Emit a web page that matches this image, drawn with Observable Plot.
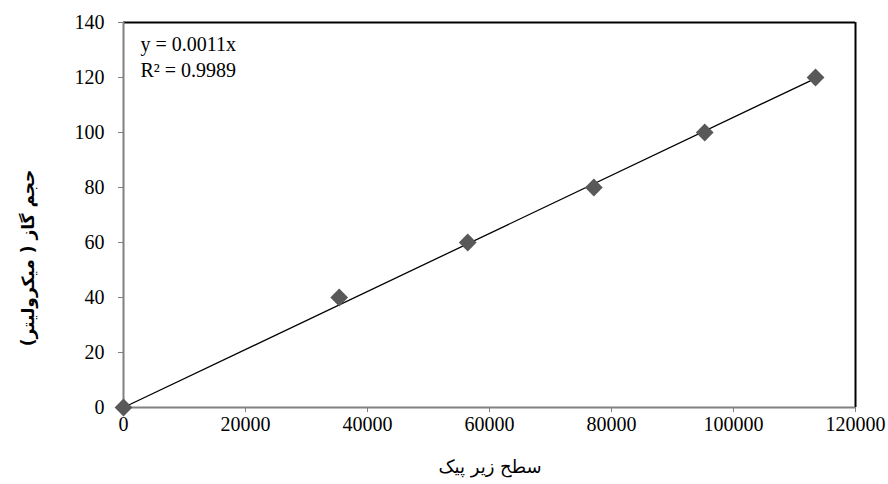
<!DOCTYPE html>
<html>
<head>
<meta charset="utf-8">
<script src="https://cdn.jsdelivr.net/npm/d3@7"></script>
<script src="https://cdn.jsdelivr.net/npm/@observablehq/plot@0.6"></script>
<style>
  html, body { margin: 0; padding: 0; background: #fff; }
  #chart { width: 888px; height: 484px; }
  #chart svg g text { font-family: "Liberation Serif", "Times New Roman", serif; font-size: 20px; }
</style>
</head>
<body>
<div id="chart"></div>
<script>
// Data
const peakArea = [0, 35360, 56430, 77110, 95280, 113450];   // سطح زیر پیک
const gasVolume = [0, 40, 60, 80, 100, 120];                 // حجم گاز (میکرولیتر)
const xTicks = [0, 20000, 40000, 60000, 80000, 100000, 120000];
const yTicks = [0, 20, 40, 60, 80, 100, 120, 140];
const equationText = ["y = 0.0011x", "R² = 0.9989"];
const xLabel = "سطح زیر پیک";
const yLabel = "حجم گاز ( میکرولیتر)";

const points = peakArea.map((x, i) => ({x, y: gasVolume[i]}));

// Linear trendline through the origin (least squares)
const sxy = d3.sum(points, d => d.x * d.y);
const sxx = d3.sum(points, d => d.x * d.x);
const slope = sxy / sxx;
const xMax = d3.max(peakArea);
const trend = [{x: 0, y: 0}, {x: xMax, y: slope * xMax}];

const axisGray = "#808080";

const chart = Plot.plot({
  width: 888,
  height: 484,
  marginLeft: 123,
  marginRight: 33,
  marginTop: 22,
  marginBottom: 77,
  style: {fontFamily: "'Liberation Serif', 'Times New Roman', serif", fontSize: "20px", color: "#000", background: "#fff"},
  x: {domain: [0, 120000], ticks: xTicks, tickFormat: d => String(d), label: null},
  y: {domain: [0, 140], ticks: yTicks, tickFormat: d => String(d), label: null},
  marks: [
    Plot.axisX({ticks: xTicks, tickFormat: d => String(d), tickSize: 5, tickPadding: 4, stroke: axisGray, fill: "#000", label: null}),
    Plot.axisY({ticks: yTicks, tickFormat: d => String(d), tickSize: 5, tickPadding: 14, stroke: axisGray, fill: "#000", label: null}),
    Plot.ruleY([140], {stroke: "#000", strokeWidth: 2}),
    Plot.ruleX([120000], {stroke: "#000", strokeWidth: 2}),
    Plot.ruleX([0], {stroke: axisGray, strokeWidth: 2}),
    Plot.ruleY([0], {stroke: axisGray, strokeWidth: 2}),
    Plot.line(trend, {x: "x", y: "y", stroke: "#000", strokeWidth: 1.3}),
    Plot.dot(points, {x: "x", y: "y", symbol: "diamond2", r: 8, fill: "#595959", stroke: "none"}),
    Plot.text([equationText.join("\n")], {frameAnchor: "top-left", textAnchor: "start", lineAnchor: "top", dx: 17, dy: 10, lineHeight: 1.3, fill: "#000"})
  ]
});

const svg = d3.select(chart);
svg.append("text")
  .attr("x", 490).attr("y", 473)
  .attr("text-anchor", "middle")
  .attr("direction", "rtl")
  .style("font-family", "'DejaVu Sans', 'Noto Sans', sans-serif")
  .style("font-size", "18px")
  .attr("fill", "#000")
  .text(xLabel);
svg.append("text")
  .attr("transform", "translate(28,258) rotate(-90)")
  .attr("text-anchor", "middle")
  .attr("dominant-baseline", "central")
  .attr("direction", "rtl")
  .style("font-family", "'DejaVu Sans', 'Noto Sans', sans-serif")
  .style("font-size", "17px")
  .style("font-weight", "bold")
  .attr("fill", "#000")
  .text(yLabel);

document.getElementById("chart").appendChild(chart);
</script>
</body>
</html>
